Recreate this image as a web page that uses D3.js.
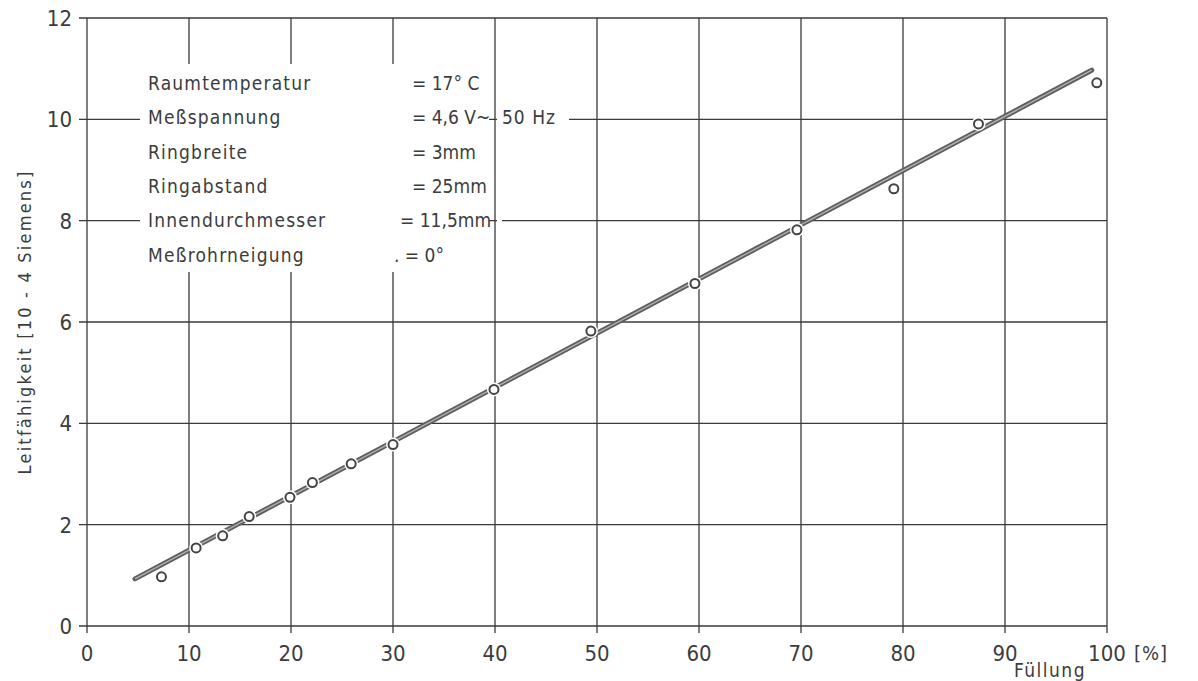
<!DOCTYPE html>
<html>
<head>
<meta charset="utf-8">
<script src="https://cdn.jsdelivr.net/npm/d3@7"></script>
<style>
  body { margin: 0; background: #fff; }
  svg { display: block; }
  text { font-family: 'DejaVu Sans Condensed', 'DejaVu Sans', sans-serif; fill: #3c3c3c; }
</style>
</head>
<body>
<svg id="chart"></svg>
<script>
const SVG_WIDTH = 1198
const SVG_HEIGHT = 681
const LEFT = 87, RIGHT = 1107, TOP = 18, BOTTOM = 626

// Messpunkte (Füllung %, Leitfähigkeit 10^-4 S)
const fuellung = [7.3, 10.7, 13.3, 15.9, 19.9, 22.1, 25.9, 30.0, 39.9, 49.4, 59.6, 69.6, 79.1, 87.4, 99.0]
const leitf = [0.97, 1.54, 1.78, 2.16, 2.54, 2.83, 3.2, 3.58, 4.67, 5.82, 6.76, 7.82, 8.63, 9.91, 10.72]

// Ausgleichsgerade
const fitX = [4.7, 98.5]
const fitY = [0.93, 10.97]

const xTicks = [0, 10, 20, 30, 40, 50, 60, 70, 80, 90, 100]
const yTicks = [0, 2, 4, 6, 8, 10, 12]

const infoLabels = ['Raumtemperatur', 'Meßspannung', 'Ringbreite', 'Ringabstand', 'Innendurchmesser', 'Meßrohrneigung']
const infoValues = ['= 17° C', '= 4,6 V~', '= 3mm', '= 25mm', '= 11,5mm', '.  =  0°']

const svg = d3.select('#chart')
  .attr('width', SVG_WIDTH)
  .attr('height', SVG_HEIGHT)

const x = d3.scaleLinear().domain([0, 100]).range([LEFT, RIGHT])
const y = d3.scaleLinear().domain([0, 12]).range([BOTTOM, TOP])

const ink = '#3a3a3a'

// grid
svg.append('g')
  .selectAll('line')
  .data(xTicks)
  .join('line')
  .attr('x1', d => x(d)).attr('x2', d => x(d))
  .attr('y1', y(12)).attr('y2', y(0) + 7)
  .attr('stroke', ink).attr('stroke-width', 1.3)

svg.append('g')
  .selectAll('line')
  .data(yTicks)
  .join('line')
  .attr('x1', x(0) - 8).attr('x2', x(100))
  .attr('y1', d => y(d)).attr('y2', d => y(d))
  .attr('stroke', ink).attr('stroke-width', 1.3)

// knock out grid behind the info block
svg.append('rect')
  .attr('x', 140).attr('y', 64).attr('width', 349).attr('height', 208)
  .attr('fill', '#fff')
svg.append('rect')
  .attr('x', 497).attr('y', 108).attr('width', 72).attr('height', 24)
  .attr('fill', '#fff')
svg.append('rect')
  .attr('x', 497).attr('y', 212).attr('width', 5).attr('height', 20)
  .attr('fill', '#fff')

// tick labels
svg.append('g')
  .selectAll('text')
  .data(xTicks)
  .join('text')
  .attr('x', d => x(d))
  .attr('y', 661)
  .attr('text-anchor', 'middle')
  .attr('font-size', 22)
  .text(d => d)

svg.append('g')
  .selectAll('text')
  .data(yTicks)
  .join('text')
  .attr('x', 72)
  .attr('y', d => y(d) + 8)
  .attr('text-anchor', 'end')
  .attr('font-size', 22)
  .text(d => d)

svg.append('text')
  .attr('x', 1134).attr('y', 660)
  .attr('font-size', 20)
  .attr('letter-spacing', 1)
  .text('[%]')

svg.append('text')
  .attr('x', 1050).attr('y', 677)
  .attr('text-anchor', 'middle')
  .attr('font-size', 19)
  .attr('letter-spacing', 1.5)
  .text('Füllung')

svg.append('text')
  .attr('transform', `translate(31, ${322}) rotate(-90)`)
  .attr('text-anchor', 'middle')
  .attr('font-size', 18)
  .attr('letter-spacing', 2.2)
  .text('Leitfähigkeit [10 - 4 Siemens]')

// info block
const info = svg.append('g')
info.selectAll('text.lbl')
  .data(infoLabels)
  .join('text')
  .attr('class', 'lbl')
  .attr('x', 148)
  .attr('y', (d, i) => 90 + i * 34.3)
  .attr('font-size', 19)
  .attr('letter-spacing', 1.2)
  .text(d => d)

info.selectAll('text.val')
  .data(infoValues)
  .join('text')
  .attr('class', 'val')
  .attr('x', (d, i) => i === 4 ? 400 : (i === 5 ? 394 : 412))
  .attr('y', (d, i) => 90 + i * 34.3)
  .attr('font-size', 19)
  .attr('letter-spacing', 0)
  .text(d => d)

info.append('text')
  .attr('x', 502).attr('y', 90 + 34.3)
  .attr('font-size', 19)
  .attr('letter-spacing', 1)
  .text('50 Hz')

// fit line
const line = d3.line().x(d => x(d[0])).y(d => y(d[1]))
const fitData = d3.zip(fitX, fitY)
svg.append('path')
  .attr('d', line(fitData))
  .attr('stroke', '#5e5e5e').attr('stroke-width', 5)
  .attr('fill', 'none').attr('stroke-linecap', 'round')
svg.append('path')
  .attr('d', line(fitData))
  .attr('stroke', '#b0b0b0').attr('stroke-width', 1.4)
  .attr('fill', 'none')

// measured points
const pts = d3.zip(fuellung, leitf)
svg.append('g')
  .selectAll('circle')
  .data(pts)
  .join('circle')
  .attr('cx', d => x(d[0])).attr('cy', d => y(d[1]))
  .attr('r', 7)
  .attr('fill', '#fff')
svg.append('g')
  .selectAll('circle')
  .data(pts)
  .join('circle')
  .attr('cx', d => x(d[0])).attr('cy', d => y(d[1]))
  .attr('r', 4.5)
  .attr('fill', '#fff')
  .attr('stroke', '#444').attr('stroke-width', 2)
</script>
</body>
</html>
